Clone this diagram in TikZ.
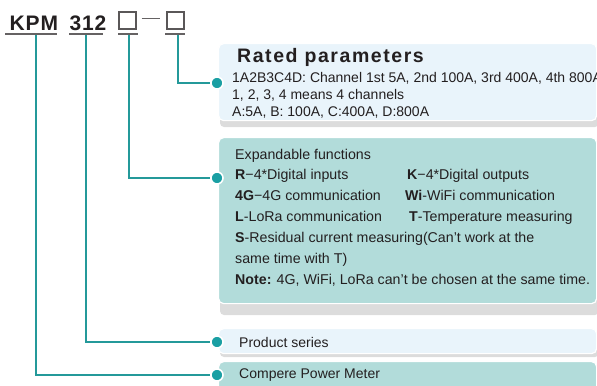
\documentclass[tikz,border=0pt]{standalone}
\usepackage{fontspec}
\setmainfont{Liberation Sans}
\usetikzlibrary{positioning}

\definecolor{ink}{HTML}{231F20}
\definecolor{lineteal}{HTML}{24999A}
\definecolor{dotteal}{HTML}{1A9FA3}
\definecolor{paleblue}{HTML}{E9F4FB}
\definecolor{paleteal}{HTML}{B2DCDA}
\definecolor{dropgrey}{HTML}{DCDCDC}

\begin{document}
\begin{tikzpicture}
		[x=1bp, y=-1bp,
		head/.style ={font=\fontsize{21bp}{21bp}\selectfont\bfseries\addfontfeature{LetterSpace=4}, text=ink, inner sep=0, anchor=base west},
		title/.style ={font=\fontsize{19.5bp}{20bp}\selectfont\bfseries\addfontfeature{LetterSpace=8}, text=ink, inner sep=0, anchor=base west},
		lbl/.style ={font=\fontsize{14bp}{17bp}\selectfont, text=ink, inner sep=0, anchor=base west},
		ebl/.style ={lbl, font=\fontsize{14.2bp}{17bp}\selectfont},
		sq/.style ={draw=ink!75, line width=1.1bp, minimum size=17bp, inner sep=0},
		uline/.style ={draw=ink!70, line width=1.5bp},
		link/.style ={draw=lineteal, line width=1.1bp},
		panel/.style ={draw=white, line width=1.2bp, rounded corners=5bp, inner sep=0, anchor=north west, minimum width=378bp},
		bluepanel/.style = {panel, fill=paleblue},
		tealpanel/.style = {panel, fill=paleteal},
		drop/.style ={fill=dropgrey, rounded corners=4bp},
		dot/.style ={circle, fill=dotteal, draw=white, line width=1.6bp, minimum size=12bp, inner sep=0},
		]

		\clip (0,0) rectangle (597,385);

		% type code
		\draw (9.5,30) node[head] (kpm) {KPM};
		\draw (69.5,30) node[head] (num) {312};
		\draw (127.5,20.5) node[sq] (s1) {};
		\draw (175.5,20.5) node[sq] (s2) {};
		\draw[uline, line width=1.3bp] ([xshift=5bp,yshift=2bp]s1.east) -- ([xshift=-6bp,yshift=2bp]s2.west);

		\draw[uline] (5,34) -- (57,34);
		\draw[uline] (69,34) -- (103,34);
		\draw[uline] (118,34) -- (138,34);
		\draw[uline] (165,34) -- (185,34);
		\coordinate (u1) at (178,35);
		\coordinate (u2) at (129,35);
		\coordinate (u3) at (86,35);
		\coordinate (u4) at (36,35);

		% panels
		\fill[drop] (220,53) rectangle (599,127);
		\fill[drop] (220,147) rectangle (599,315);
		\fill[drop] (220,335) rectangle (599,357);
		\draw (218,43) node[bluepanel, minimum height=77bp] (rated) {};
		\draw (218,137) node[tealpanel, minimum height=166bp] (expand) {};
		\draw (218,328) node[bluepanel, minimum height=25bp] (series) {};
		\draw (218,361) node[tealpanel, minimum height=34bp] (meter) {};

		\draw (217,83) node[dot] (d1) {};
		\draw (217,178) node[dot] (d2) {};
		\draw (217,342) node[dot] (d3) {};
		\draw (217,375) node[dot] (d4) {};

		\path[link]
		(u1) |- (d1)
		(u2) |- (d2)
		(u3) |- (d3)
		(u4) |- (d4);

		% rated parameters
		\draw (237,62) node[title] (rt) {Rated parameters};
		\draw (232,82) node[lbl] (r1) {1A2B3C4D: Channel 1st 5A, 2nd 100A, 3rd 400A, 4th 800A};
		\draw (232,99) node[lbl] (r2) {1, 2, 3, 4 means 4 channels};
		\draw (232,116) node[lbl] (r3) {A:5A, B: 100A, C:400A, D:800A};

		% expandable functions
		\draw (235,159) node[ebl] (e1) {Expandable functions};
		\draw (235,179) node[ebl] (e2) {\textbf{R}−4*Digital inputs};
		\draw (407,179) node[ebl] (e3) {\textbf{K}−4*Digital outputs};
		\draw (235,200) node[ebl] (e4) {\textbf{4G}−4G communication};
		\draw (405,200) node[ebl] (e5) {\textbf{Wi}-WiFi communication};
		\draw (235,221) node[ebl] (e6) {\textbf{L}-LoRa communication};
		\draw (409,221) node[ebl] (e7) {\textbf{T}-Temperature measuring};
		\draw (235,242) node[ebl] (e8) {\textbf{S}-Residual current measuring(Can’t work at the};
		\draw (235,263) node[ebl] (e9) {same time with T)};
		\draw (235,284) node[ebl] (e10) {\textbf{Note:} 4G, WiFi, LoRa can’t be chosen at the same time.};

		% series and meter
		\draw (239,347) node[lbl] (p1) {Product series};
		\draw (239,378) node[lbl] (m1) {Compere Power Meter};

	\end{tikzpicture}
\end{document}
